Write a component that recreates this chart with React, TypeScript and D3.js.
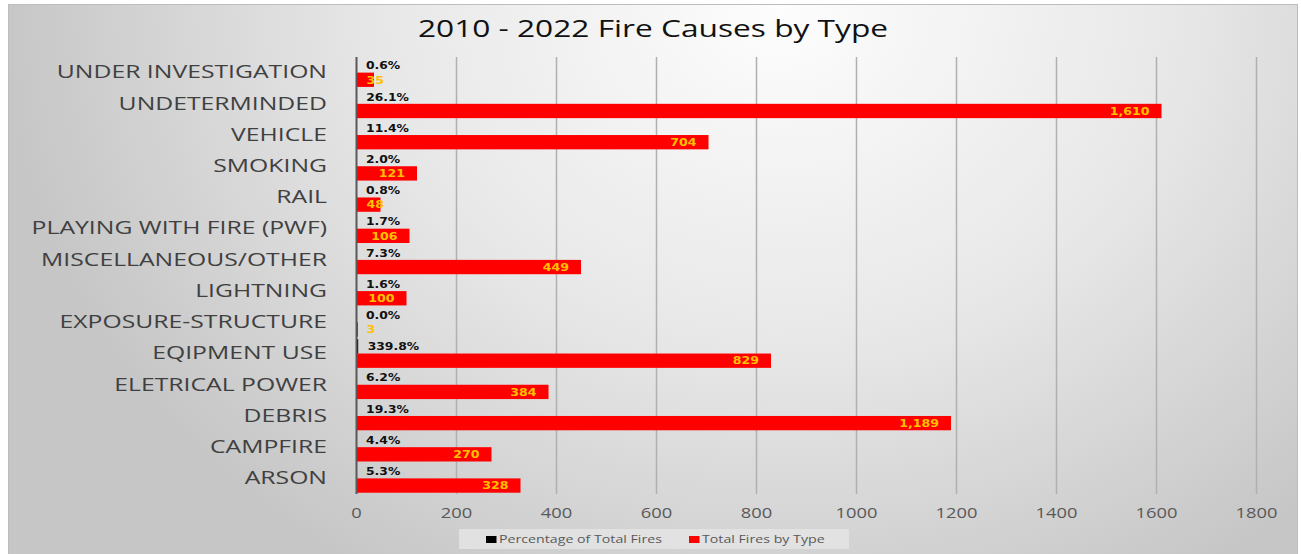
import React from "react";
import * as d3 from "d3";

const categories = [
  "UNDER INVESTIGATION",
  "UNDETERMINDED",
  "VEHICLE",
  "SMOKING",
  "RAIL",
  "PLAYING WITH FIRE (PWF)",
  "MISCELLANEOUS/OTHER",
  "LIGHTNING",
  "EXPOSURE-STRUCTURE",
  "EQIPMENT USE",
  "ELETRICAL POWER",
  "DEBRIS",
  "CAMPFIRE",
  "ARSON",
];
const totalFires = [35, 1610, 704, 121, 48, 106, 449, 100, 3, 829, 384, 1189, 270, 328];
const percentOfTotal = [0.006, 0.261, 0.114, 0.02, 0.008, 0.017, 0.073, 0.016, 0.0, 3.398, 0.062, 0.193, 0.044, 0.053];
const xTicks = [0, 200, 400, 600, 800, 1000, 1200, 1400, 1600, 1800];
const seriesNames = ["Percentage of Total Fires", "Total Fires by Type"];
const seriesColors = ["#000000", "#ff0000"];
const title = "2010 - 2022 Fire Causes by Type";

const W = 1301;
const H = 554;
const SX = 1.31;

export default function App() {
  const x = d3.scaleLinear().domain([0, 1800]).range([356.5, 1256.5]);
  const y = d3.scaleBand<string>().domain(categories).range([57, 494]).paddingInner(0).paddingOuter(0);
  const sub = d3
    .scaleBand<string>()
    .domain(["pct", "total"])
    .range([0, y.bandwidth()])
    .paddingInner(0)
    .paddingOuter(0.09);
  const fmtPct = d3.format(".1%");
  const fmtNum = d3.format(",");
  const x0 = x(0);

  const estWidth = (s: string) => {
    let w = 0;
    for (const ch of s) w += ch === "," ? 0.38 : 0.696;
    return w * 10.5 * 1.2;
  };

  return (
    <svg width={W} height={H} style={{ position: "absolute", left: 0, top: 0 }}>
      <defs>
        <radialGradient
          id="bg"
          gradientUnits="userSpaceOnUse"
          cx={780}
          cy={10}
          r={780}
          gradientTransform="translate(780,10) scale(1,0.85) translate(-780,-10)"
        >
          <stop offset="0" stopColor="#fdfdfd" />
          <stop offset="0.5" stopColor="#e8e8e8" />
          <stop offset="1" stopColor="#c6c6c6" />
        </radialGradient>
      </defs>
      <rect x={0} y={0} width={W} height={H} fill="#ffffff" />
      <rect x={8.5} y={4.5} width={1289} height={560} fill="url(#bg)" stroke="#bdbdbd" strokeWidth={1} />

      <text
        transform={`translate(653,36.5) scale(1.36,1)`}
        textAnchor="middle"
        fontFamily="'Open Sans', sans-serif"
        fontSize={23.3}
        fill="#111111"
      >
        {title}
      </text>

      {/* gridlines */}
      {xTicks
        .filter((t) => t !== 0)
        .map((t) => (
          <line key={t} x1={x(t)} x2={x(t)} y1={57} y2={494} stroke="#b0b0b0" strokeWidth={1.5} />
        ))}

      {/* bars */}
      {categories.map((c, i) => {
        const yb = y(c)!;
        const yp = yb + sub("pct")!;
        const yt = yb + sub("total")!;
        const bh = sub.bandwidth();
        const v = totalFires[i];
        const label = fmtNum(v);
        const w = estWidth(label);
        const endX = x(v) - 12;
        const fits = endX - w >= x0 + 10;
        return (
          <g key={c}>
            <rect x={x0} y={yp} width={Math.max(0, x(percentOfTotal[i]) - x0)} height={bh} fill={seriesColors[0]} />
            <rect x={x0} y={yt} width={x(v) - x0} height={bh} fill={seriesColors[1]} />
            <text
              transform={`translate(${x(percentOfTotal[i]) + 9.5},${yp + bh / 2 + 3.9}) scale(1.2,1)`}
              fontFamily="'DejaVu Sans', sans-serif"
              fontWeight="bold"
              fontSize={10.3}
              fill="#111111"
            >
              {fmtPct(percentOfTotal[i])}
            </text>
            <text
              transform={`translate(${fits ? endX : x0 + 10},${yt + bh / 2 + 3.8}) scale(1.2,1)`}
              textAnchor={fits ? "end" : "start"}
              fontFamily="'DejaVu Sans', sans-serif"
              fontWeight="bold"
              fontSize={10.5}
              fill="#ffc000"
            >
              {label}
            </text>
            <text
              transform={`translate(327,${yb + y.bandwidth() / 2 + 5.8}) scale(1.375,1)`}
              textAnchor="end"
              fontFamily="'Open Sans', sans-serif"
              fontSize={18}
              fill="#404040"
            >
              {c}
            </text>
          </g>
        );
      })}

      {/* axis line */}
      <line x1={x0} x2={x0} y1={57} y2={494} stroke="#595959" strokeWidth={2} />

      {/* tick labels */}
      {xTicks.map((t) => (
        <text
          key={t}
          transform={`translate(${x(t)},518) scale(${SX},1)`}
          textAnchor="middle"
          fontFamily="'Open Sans', sans-serif"
          fontSize={14}
          fill="#595959"
        >
          {t}
        </text>
      ))}

      {/* legend */}
      <rect x={459} y={529} width={390} height={20} fill="#e4e4e4" opacity={0.85} />
      {seriesNames.map((s, i) => {
        const lx = i === 0 ? 486 : 689;
        return (
          <g key={s}>
            <rect x={lx} y={536} width={10.5} height={7} fill={seriesColors[i]} />
            <text
              transform={`translate(${lx + 13},542.5) scale(1.29,1)`}
              fontFamily="'Open Sans', sans-serif"
              fontSize={11}
              fill="#595959"
            >
              {s}
            </text>
          </g>
        );
      })}
    </svg>
  );
}
